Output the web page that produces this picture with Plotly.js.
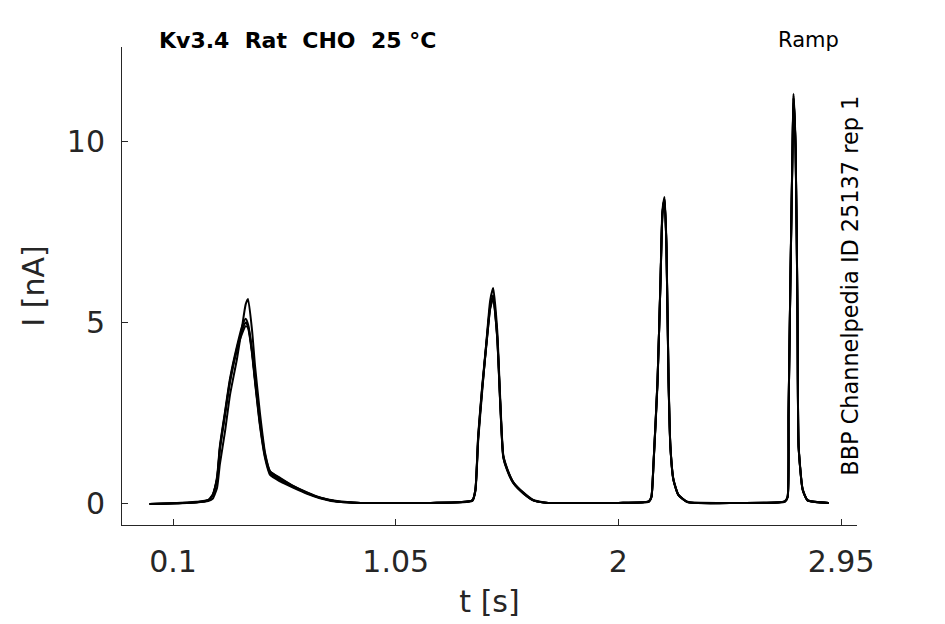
<!DOCTYPE html>
<html>
<head>
<meta charset="utf-8">
<script src="https://cdn.plot.ly/plotly-3.0.1.min.js"></script>
<style>
  html, body { margin: 0; padding: 0; background: #fff; }
  #plotDiv { width: 945px; height: 624px; }
</style>
</head>
<body>
<div id="plotDiv"></div>
<script>
// time samples [s], shared by all sweeps
const time = [0, 0.1, 0.2, 0.25, 0.27, 0.288, 0.30, 0.322, 0.343, 0.373, 0.395, 0.41, 0.42, 0.437, 0.45, 0.471, 0.493, 0.514, 0.557, 0.612, 0.672, 0.727, 0.80, 0.90, 1.0, 1.2, 1.377, 1.39, 1.402, 1.419, 1.44, 1.453, 1.466, 1.483, 1.496, 1.509, 1.526, 1.552, 1.594, 1.637, 1.70, 1.85, 2.0, 2.13, 2.141, 2.15, 2.167, 2.18, 2.188, 2.197, 2.205, 2.214, 2.222, 2.235, 2.256, 2.295, 2.5, 2.71, 2.722, 2.726, 2.734, 2.743, 2.747, 2.756, 2.764, 2.769, 2.786, 2.807, 2.897];

// current [nA], one array per repeat
const sweep1 = [0, 0.02, 0.05, 0.1, 0.25, 0.7, 1.55, 2.5, 3.4, 4.3, 4.8, 5.0, 4.9, 4.2, 3.4, 2.2, 1.3, 0.85, 0.66, 0.47, 0.3, 0.17, 0.07, 0.03, 0.03, 0.03, 0.1, 0.39, 1.85, 3.2, 4.6, 5.4, 5.7, 4.6, 2.78, 1.3, 0.94, 0.58, 0.3, 0.1, 0.03, 0.03, 0.03, 0.07, 0.2, 1.13, 3.4, 6.2, 8.0, 8.4, 7.1, 3.4, 1.57, 0.66, 0.25, 0.05, 0.03, 0.07, 0.2, 2.5, 6.2, 9.8, 11.2, 9.8, 5.3, 1.57, 0.4, 0.1, 0.03];
const sweep2 = [0, 0.01, 0.04, 0.08, 0.15, 0.45, 1.1, 2.0, 3.0, 4.0, 4.9, 5.5, 5.65, 4.8, 3.8, 2.5, 1.4, 0.9, 0.7, 0.5, 0.32, 0.18, 0.08, 0.03, 0.03, 0.03, 0.08, 0.35, 1.75, 3.1, 4.7, 5.6, 5.95, 4.8, 2.9, 1.35, 0.97, 0.6, 0.32, 0.11, 0.03, 0.03, 0.03, 0.06, 0.18, 1.1, 3.3, 6.3, 8.1, 8.46, 7.2, 3.5, 1.6, 0.68, 0.26, 0.06, 0.03, 0.06, 0.18, 2.4, 6.3, 9.9, 11.3, 9.9, 5.4, 1.6, 0.42, 0.11, 0.03];
const sweep3 = [0, 0.02, 0.06, 0.11, 0.27, 0.75, 1.6, 2.55, 3.45, 4.35, 4.9, 5.1, 4.95, 4.25, 3.45, 2.3, 1.35, 0.9, 0.72, 0.5, 0.31, 0.17, 0.07, 0.03, 0.03, 0.03, 0.1, 0.4, 1.9, 3.25, 4.65, 5.45, 5.75, 4.65, 2.8, 1.32, 0.95, 0.6, 0.31, 0.1, 0.03, 0.03, 0.03, 0.07, 0.21, 1.15, 3.4, 6.2, 8.0, 8.4, 7.1, 3.4, 1.57, 0.67, 0.25, 0.05, 0.03, 0.07, 0.2, 2.5, 6.2, 9.8, 11.25, 9.8, 5.3, 1.57, 0.4, 0.1, 0.03];
const sweep4 = [0, 0.02, 0.05, 0.1, 0.24, 0.68, 1.5, 2.45, 3.35, 4.25, 4.7, 4.9, 4.85, 4.15, 3.35, 2.15, 1.25, 0.8, 0.62, 0.45, 0.28, 0.16, 0.06, 0.03, 0.03, 0.03, 0.1, 0.38, 1.82, 3.18, 4.58, 5.38, 5.68, 4.58, 2.76, 1.28, 0.92, 0.57, 0.29, 0.1, 0.03, 0.03, 0.03, 0.07, 0.2, 1.12, 3.38, 6.18, 7.98, 8.38, 7.08, 3.38, 1.56, 0.65, 0.24, 0.05, 0.03, 0.07, 0.2, 2.48, 6.18, 9.78, 11.18, 9.78, 5.28, 1.56, 0.39, 0.1, 0.03];

const xTicks = [0.1, 1.05, 2, 2.95];
const xTickText = ['0.1', '1.05', '2', '2.95'];
const yTicks = [0, 5, 10];

const font = 'DejaVu Sans, Liberation Sans, sans-serif';
const ink = '#262626';

let data = [sweep1, sweep2, sweep3, sweep4].map((ys) => ({
    x: time,
    y: ys,
    mode: 'lines',
    type: 'scatter',
    line: { color: '#000', width: 2, shape: 'spline', smoothing: 0.5 },
    hoverinfo: 'skip'
}));

let layout = {
    width: 945,
    height: 624,
    margin: { l: 122, r: 88, t: 47, b: 99 },
    paper_bgcolor: '#fff',
    plot_bgcolor: '#fff',
    showlegend: false,
    font: { family: font, color: ink },
    xaxis: {
        range: [-0.1176, 3.018],
        tickvals: xTicks,
        ticktext: xTickText,
        ticks: 'inside',
        ticklen: 6,
        tickcolor: ink,
        showline: true,
        linecolor: ink,
        linewidth: 1,
        showgrid: false,
        zeroline: false,
        tickfont: { size: 30, color: ink },
        ticklabelstandoff: 10,
        title: { text: 't [s]', font: { size: 30, color: ink }, standoff: 12 }
    },
    yaxis: {
        range: [-0.579, 12.59],
        tickvals: yTicks,
        ticks: 'inside',
        ticklen: 6,
        tickcolor: ink,
        showline: true,
        linecolor: ink,
        linewidth: 1,
        showgrid: false,
        zeroline: false,
        tickfont: { size: 30, color: ink },
        ticklabelstandoff: 10,
        title: { text: 'I [nA]', font: { size: 30, color: ink }, standoff: 13 }
    },
    annotations: [
        {
            xref: 'paper', yref: 'paper', x: 0.047, y: 1.0146,
            xanchor: 'left', yanchor: 'middle', showarrow: false,
            text: '<b>Kv3.4\u00a0\u00a0Rat\u00a0\u00a0CHO\u00a0\u00a025\u00a0°C</b>',
            font: { size: 22, color: '#000' }
        },
        {
            xref: 'paper', yref: 'paper', x: 0.978, y: 1.0146,
            xanchor: 'right', yanchor: 'middle', showarrow: false,
            text: 'Ramp',
            font: { size: 21, color: '#000' }
        },
        {
            xref: 'paper', yref: 'paper', x: 0.99, y: 0.5,
            xanchor: 'center', yanchor: 'middle', showarrow: false,
            textangle: -90,
            text: 'BBP Channelpedia ID 25137 rep 1',
            font: { size: 22.4, color: '#000' }
        }
    ]
};

let config = { staticPlot: true };

Plotly.newPlot('plotDiv', data, layout, config);
</script>
</body>
</html>
